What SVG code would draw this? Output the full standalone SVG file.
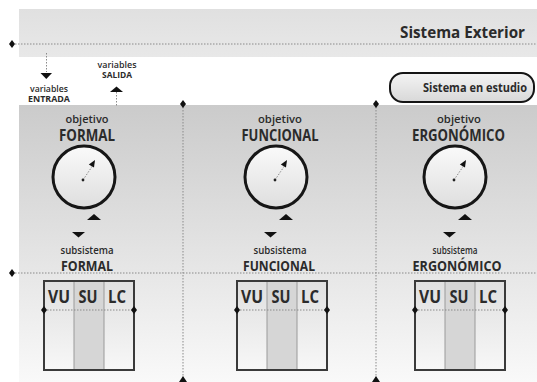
<svg xmlns="http://www.w3.org/2000/svg" xmlns:xlink="http://www.w3.org/1999/xlink" width="537" height="382" viewBox="0 0 537 382">
<defs>
<linearGradient id="gBand" x1="0" y1="0" x2="0" y2="1"><stop offset="0" stop-color="#e0e0e0"/><stop offset="1" stop-color="#e8e8e8"/></linearGradient>
<linearGradient id="gPanel" x1="0" y1="0" x2="0" y2="1"><stop offset="0" stop-color="#cbcbcb"/><stop offset="1" stop-color="#f9f9f9"/></linearGradient>
<linearGradient id="gCircle" x1="0" y1="0" x2="0" y2="1"><stop offset="0" stop-color="#fafafa"/><stop offset="1" stop-color="#dedede"/></linearGradient>
<linearGradient id="gPill" x1="0" y1="0" x2="0" y2="1"><stop offset="0" stop-color="#f4f4f4"/><stop offset="1" stop-color="#d8d8d8"/></linearGradient>
<linearGradient id="gCol" x1="0" y1="0" x2="0" y2="1"><stop offset="0" stop-color="#e0e0e0"/><stop offset="1" stop-color="#f7f7f7"/></linearGradient>
<path id="dia" d="M0,-4 L3,0 L0,4 L-3,0 Z" fill="#111"/>
<g id="dial">
<circle cx="0" cy="177" r="31" fill="url(#gCircle)" stroke="#161616" stroke-width="3"/>
<line x1="-1" y1="180" x2="8.4" y2="166" class="dot"/>
<circle cx="-1" cy="180" r="1.4" fill="#222"/>
<path d="M11,160 L10,167.5 L4.8,164.5 Z" fill="#111"/>
<path d="M3,220 L10,214 L17,220 Z" fill="#111"/>
<path d="M-12,232 L1,232 L-5.5,237.5 Z" fill="#111"/>
</g>
<g id="box">
<rect x="0" y="281" width="30" height="89" fill="url(#gCol)"/>
<rect x="30" y="281" width="30" height="89" fill="#d6d6d6"/>
<rect x="60" y="281" width="30" height="89" fill="url(#gCol)"/>
<line x1="30" y1="281" x2="30" y2="370" stroke="#9a9a9a" stroke-width="1"/>
<line x1="60" y1="281" x2="60" y2="370" stroke="#9a9a9a" stroke-width="1"/>
<rect x="0" y="281" width="90" height="89" fill="none" stroke="#3a3a3a" stroke-width="2"/>
<line x1="0" y1="310" x2="90" y2="310" class="dot"/>
<use xlink:href="#dia" x="0" y="310"/>
<use xlink:href="#dia" x="90" y="310"/>
<text x="15" y="303" class="vsl" textLength="22" lengthAdjust="spacingAndGlyphs">VU</text>
<text x="44" y="303" class="vsl" textLength="19" lengthAdjust="spacingAndGlyphs">SU</text>
<text x="73" y="303" class="vsl" textLength="18" lengthAdjust="spacingAndGlyphs">LC</text>
</g>
</defs>
<style>
text{font-family:"Open Sans","Liberation Sans",sans-serif;fill:#2b2b2b;text-anchor:middle}
.dot{stroke:#8a8a8a;stroke-width:1;stroke-dasharray:1.5 1.5;fill:none}
.big{font-weight:700;font-size:16px}
.sm{font-weight:600;font-size:10.5px}
.tiny{font-size:8.5px;font-weight:600}
.vsl{font-weight:700;font-size:17px;text-anchor:middle}
</style>
<rect width="537" height="382" fill="#ffffff"/>
<g id="sistema-exterior">
<rect x="19" y="9" width="518" height="48" fill="url(#gBand)"/>
<text x="525" y="38" style="text-anchor:end;font-weight:700;font-size:16px" textLength="125" lengthAdjust="spacingAndGlyphs">Sistema Exterior</text>
</g>
<g id="panel">
<rect x="19" y="105" width="518" height="277" fill="url(#gPanel)"/>
</g>
<g id="sistema-estudio">
<rect x="390" y="73" width="144" height="29" rx="13" fill="url(#gPill)" stroke="#151515" stroke-width="2"/>
<text x="527" y="92" style="text-anchor:end;font-weight:700;font-size:12px" textLength="104" lengthAdjust="spacingAndGlyphs">Sistema en estudio</text>
</g>
<g id="connectors">
<line x1="12" y1="44" x2="537" y2="44" class="dot"/>
<use xlink:href="#dia" x="12" y="44"/>
<line x1="12" y1="273" x2="537" y2="273" class="dot"/>
<use xlink:href="#dia" x="12" y="273"/>
<line x1="183" y1="104" x2="183" y2="378" class="dot"/>
<use xlink:href="#dia" x="183" y="104"/>
<path d="M179,382 L183,376 L187,382 Z" fill="#111"/>
<line x1="376" y1="104" x2="376" y2="378" class="dot"/>
<use xlink:href="#dia" x="376" y="104"/>
<path d="M372,382 L376,376 L380,382 Z" fill="#111"/>
<line x1="46.5" y1="53" x2="46.5" y2="72" class="dot"/>
<path d="M40.5,73 L52,73 L46.3,79 Z" fill="#111"/>
<line x1="116.5" y1="92" x2="116.5" y2="106" class="dot"/>
<path d="M110,92 L123,92 L116.5,86.5 Z" fill="#111"/>
</g>
<g id="variables-entrada">
<text x="49" y="92" class="tiny" textLength="38" lengthAdjust="spacingAndGlyphs">variables</text>
<text x="49" y="102" class="tiny" style="font-weight:700;font-size:9.5px" textLength="42" lengthAdjust="spacingAndGlyphs">ENTRADA</text>
</g>
<g id="variables-salida">
<text x="117" y="68" class="tiny" textLength="39" lengthAdjust="spacingAndGlyphs">variables</text>
<text x="117" y="78" class="tiny" style="font-weight:700;font-size:9.5px" textLength="30" lengthAdjust="spacingAndGlyphs">SALIDA</text>
</g>
<g id="objetivo-formal">
<text x="87" y="123" class="sm" textLength="43" lengthAdjust="spacingAndGlyphs">objetivo</text>
<text x="87" y="141" class="big" textLength="56" lengthAdjust="spacingAndGlyphs">FORMAL</text>
<use xlink:href="#dial" x="84" y="0"/>
</g>
<g id="subsistema-formal">
<text x="87" y="254" class="sm" style="font-size:10px" textLength="53" lengthAdjust="spacingAndGlyphs">subsistema</text>
<text x="87" y="271" class="big" style="font-size:15px" textLength="52" lengthAdjust="spacingAndGlyphs">FORMAL</text>
<use xlink:href="#box" x="44" y="0"/>
</g>
<g id="objetivo-funcional">
<text x="280" y="123" class="sm" textLength="44" lengthAdjust="spacingAndGlyphs">objetivo</text>
<text x="280" y="141" class="big" textLength="77" lengthAdjust="spacingAndGlyphs">FUNCIONAL</text>
<use xlink:href="#dial" x="276" y="0"/>
</g>
<g id="subsistema-funcional">
<text x="280" y="254" class="sm" style="font-size:10px" textLength="53" lengthAdjust="spacingAndGlyphs">subsistema</text>
<text x="279" y="271" class="big" style="font-size:15px" textLength="72" lengthAdjust="spacingAndGlyphs">FUNCIONAL</text>
<use xlink:href="#box" x="237" y="0"/>
</g>
<g id="objetivo-ergonomico">
<text x="459" y="123" class="sm" textLength="44" lengthAdjust="spacingAndGlyphs">objetivo</text>
<text x="458.5" y="141" class="big" textLength="93" lengthAdjust="spacingAndGlyphs">ERGONÓMICO</text>
<use xlink:href="#dial" x="455" y="0"/>
</g>
<g id="subsistema-ergonomico">
<text x="455" y="254" class="sm" style="font-size:10px" textLength="45" lengthAdjust="spacingAndGlyphs">subsistema</text>
<text x="457" y="271" class="big" style="font-size:15px" textLength="89" lengthAdjust="spacingAndGlyphs">ERGONÓMICO</text>
<use xlink:href="#box" x="415" y="0"/>
</g>
</svg>
